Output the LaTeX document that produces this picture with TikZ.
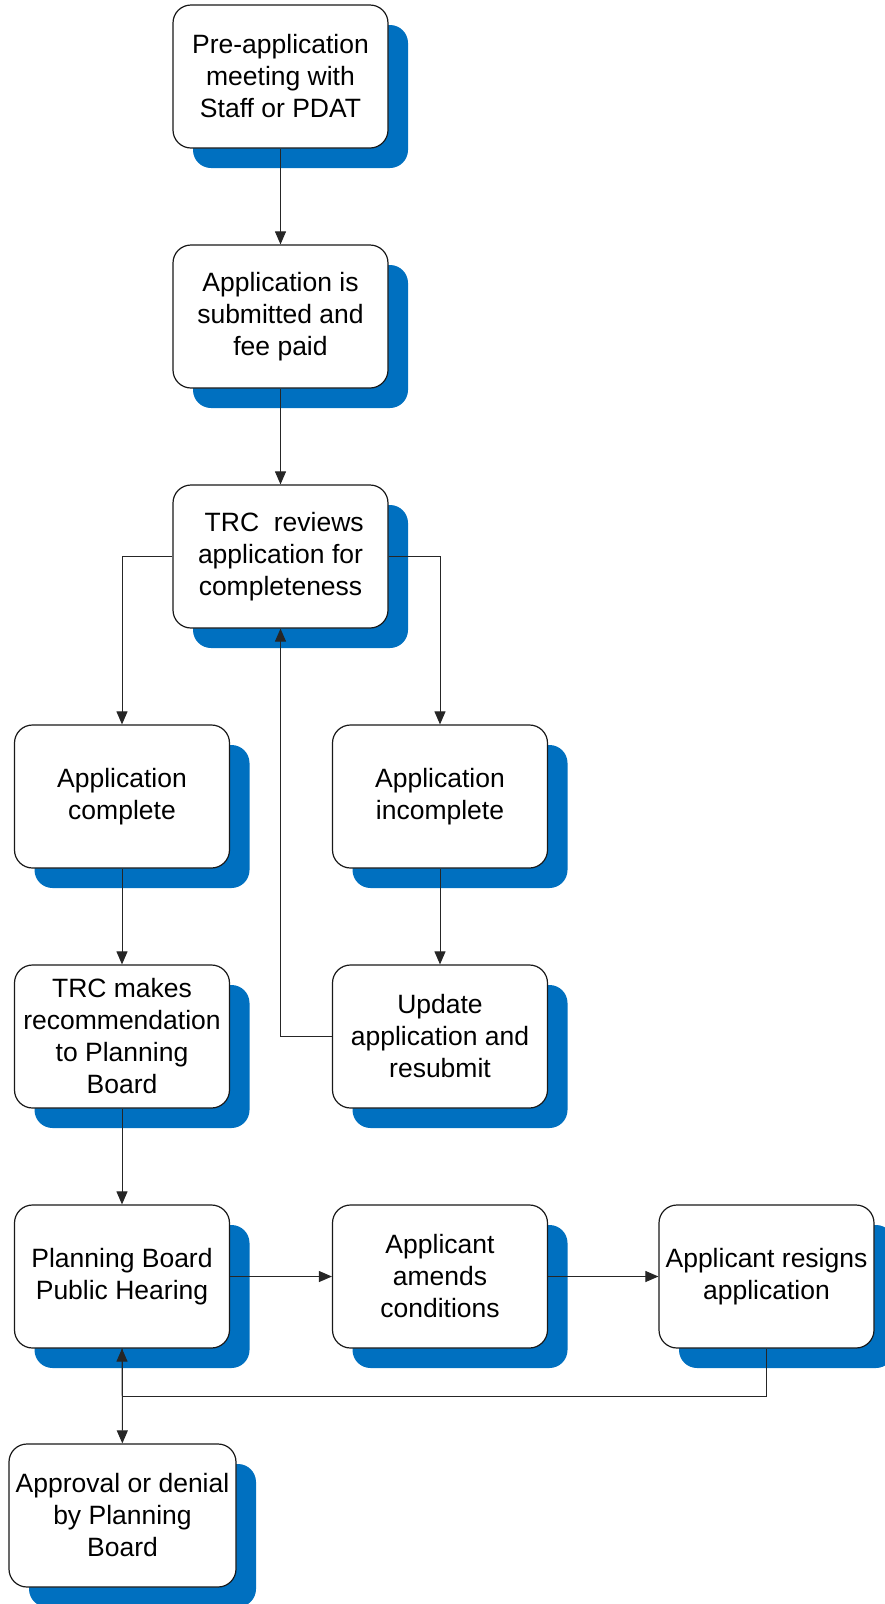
\documentclass[tikz,border=0pt]{standalone}
\usepackage{fontspec}
\setmainfont{Liberation Sans}
\usetikzlibrary{arrows.meta,shadows}
\definecolor{shadowblue}{RGB}{0,112,192}
\begin{document}
\begin{tikzpicture}[x=1pt,y=-1pt,
  box/.style={draw=black!90, line width=1.2pt, fill=white, rounded corners=18pt,
    minimum width=215pt, minimum height=143pt, inner sep=0pt, align=center,
    font=\fontsize{26.5}{32}\selectfont,
    drop shadow={shadow xshift=20pt, shadow yshift=-20pt, fill=shadowblue, opacity=1, draw=none}},
  conn/.style={draw=black!85, line width=1pt, -{Triangle[length=13pt,width=11pt]}}]
\useasboundingbox (0,0) rectangle (885,1604);

\node[box] (n1) at (280.5,76.5) {Pre-application\\meeting with\\Staff or PDAT};
\node[box] (n2) at (280.5,316.5) {Application is\\submitted and\\fee paid};
\node[box] (n3) at (280.5,556.5) {\ TRC\ \ reviews\\application for\\completeness};
\node[box] (n4) at (122,796.5) {Application\\complete};
\node[box] (n5) at (440,796.5) {Application\\incomplete};
\node[box] (n6) at (122,1036.5) {TRC makes\\recommendation\\to Planning\\Board};
\node[box] (n7) at (440,1036.5) {Update\\application and\\resubmit};
\node[box] (n8) at (122,1276.5) {Planning Board\\Public Hearing};
\node[box] (n9) at (440,1276.5) {Applicant\\amends\\conditions};
\node[box] (n10) at (766.5,1276.5) {Applicant resigns\\application};
\node[box, minimum width=227pt] (n11) at (122.5,1515.5) {Approval or denial\\by Planning\\Board};

\coordinate (j) at (122,1396);

\draw[conn] (n1) -- (n2);
\draw[conn] (n2) -- (n3);
\draw[conn] (n3.west) -| (n4);
\draw[conn] (n3.east) -| (n5);
\draw[conn] (n4) -- (n6);
\draw[conn] (n5) -- (n7);
\draw[conn] (n7.west) -| (n3);
\draw[conn] (n6) -- (n8);
\draw[conn] (n8) -- (n9);
\draw[conn] (n9) -- (n10);
\draw[conn] (n8) -- (n11);
\draw[conn] (n10.south) |- (j) -- (n8.south);
\end{tikzpicture}
\end{document}
